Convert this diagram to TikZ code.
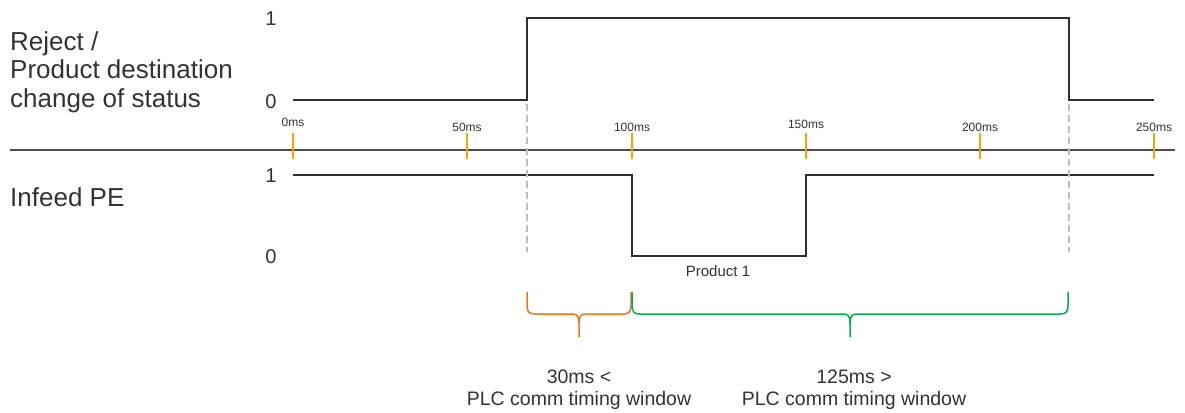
\documentclass[tikz,border=0pt]{standalone}
\usepackage{fontspec}
\setmainfont{Liberation Sans}
\usetikzlibrary{calc}
\definecolor{txt}{HTML}{333333}
\definecolor{sig}{HTML}{2E2E2E}
\definecolor{axis}{HTML}{4D4D4D}
\definecolor{tickc}{HTML}{FFA200}
\definecolor{guide}{HTML}{BDBDBD}
\definecolor{bro}{HTML}{E8741C}
\definecolor{brg}{HTML}{00B050}
\newcommand{\timebrace}[4]{% left x, right x, tip x, colour
  \draw[bracepath, draw=#4] (#1,292) -- (#1,305)
    .. controls (#1,312) and (#1+2,314) .. (#1+8,314) -- (#3-7,314)
    .. controls (#3-2,314) and (#3,316) .. (#3,323) -- (#3,337);
  \draw[bracepath, draw=#4] (#3,323)
    .. controls (#3,316) and (#3+2,314) .. (#3+7,314) -- (#2-8,314)
    .. controls (#2-2,314) and (#2,312) .. (#2,305) -- (#2,292);
}
\begin{document}
\begin{tikzpicture}[x=1pt,y=-1pt,
  every node/.style={inner sep=0pt, text=txt},
  lbl/.style={anchor=base west, align=left, font=\fontsize{26}{28.5}\selectfont},
  lvl/.style={anchor=base, font=\fontsize{20}{20}\selectfont},
  mslbl/.style={anchor=base, font=\fontsize{12}{12}\selectfont},
  note/.style={anchor=base, font=\fontsize{15}{15}\selectfont},
  bracecap/.style={anchor=base, align=center, font=\fontsize{19.5}{22}\selectfont},
  signal/.style={draw=sig, line width=1.4pt, line join=miter},
  axisline/.style={draw=axis, line width=1.8pt},
  tickmark/.style={draw=tickc, line width=1.5pt},
  guideline/.style={draw=guide, line width=1.4pt, dash pattern=on 7pt off 4pt},
  bracepath/.style={line width=1.5pt, line join=round}]
\useasboundingbox (0,0) rectangle (1185,412);

% time positions (0..250 ms)
\foreach \n/\x in {0/293,50/467,100/632,150/806,200/980,250/1154}
  \coordinate (t\n) at (\x,150);
% switching instants of the reject signal
\coordinate (ron) at (527,150);
\coordinate (roff) at (1069,150);

% left signal names
\node[lbl] (rejlbl) at (10,107) {Reject /\\Product destination\\change of status};
\node[lbl] (pelbl) at (10,206) {Infeed PE};

% level labels
\node[lvl] (r1) at (271,26) {1};
\node[lvl] (r0) at (271,108) {0};
\node[lvl] (p1) at (271,182) {1};
\node[lvl] (p0) at (271,263) {0};

% time axis
\coordinate (axl) at (10,150);
\coordinate (axr) at (1175,150);
\draw[axisline] (axl) -- (axr);
\foreach \n/\b in {0/126,50/131,100/131,150/128,200/131,250/131} {
  \draw[tickmark] ($(t\n)+(0,-17)$) -- ($(t\n)+(0,9)$);
  \node[mslbl] (ms\n) at (t\n |- 0,\b) {\n ms};
}

% reject / destination signal
\draw[signal] (t0 |- 0,100) -- (ron |- 0,100) -- (ron |- 0,18)
  -- (roff |- 0,18) -- (roff |- 0,100) -- (t250 |- 0,100);

% infeed photo-eye signal
\draw[signal] (t0 |- 0,175) -- (t100 |- 0,175) -- (t100 |- 0,256)
  -- (t150 |- 0,256) -- (t150 |- 0,175) -- (t250 |- 0,175);
\node[note] (prod) at (718,276) {Product 1};

% guide lines at the switching instants
\draw[guideline] (ron |- 0,104) -- (ron |- 0,252);
\draw[guideline] (roff |- 0,104) -- (roff |- 0,252);

% braces below the time line
\timebrace{527}{631}{579}{bro}
\timebrace{632}{1068}{850}{brg}

% brace captions
\node[bracecap] (c30) at (579,405) {30ms <\\PLC comm timing window};
\node[bracecap] (c125) at (854,405) {125ms >\\PLC comm timing window};
\end{tikzpicture}
\end{document}
